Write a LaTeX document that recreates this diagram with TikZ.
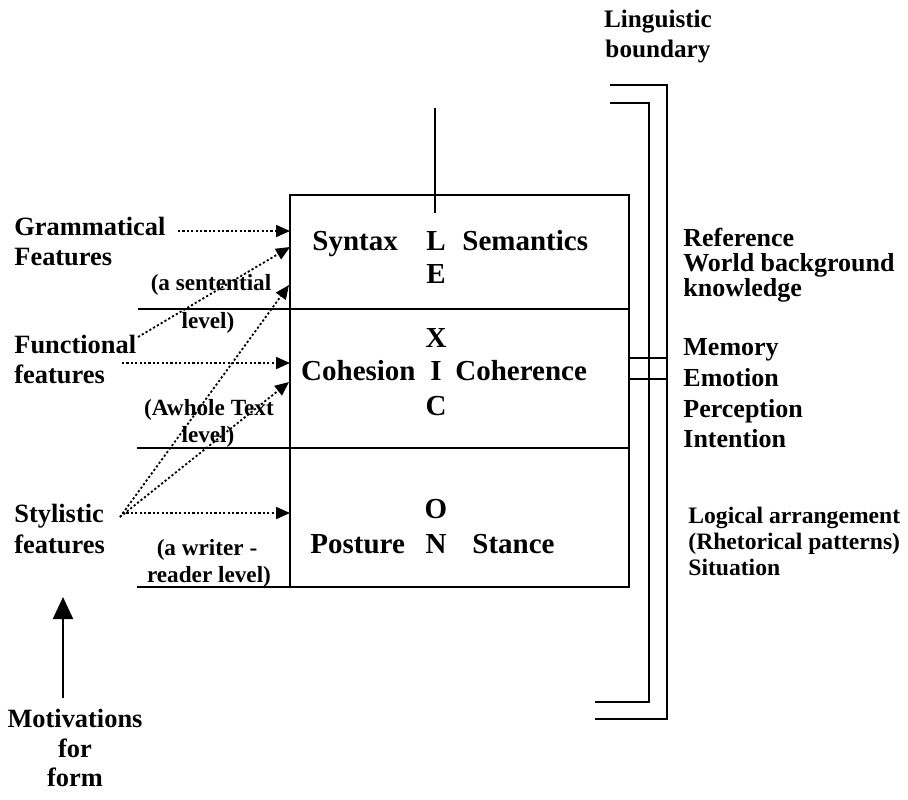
\documentclass[tikz,border=0pt]{standalone}
\usepackage{fontspec}
\setmainfont{Liberation Serif}
\usetikzlibrary{arrows.meta}
\begin{document}
\begin{tikzpicture}[x=0.5pt,y=-0.5pt,
  lbl/.style={font=\fontsize{13.2}{15}\selectfont\bfseries, inner sep=0pt, anchor=base west},
  sml/.style={font=\fontsize{11.6}{14}\selectfont\bfseries, inner sep=0pt, anchor=base},
  boxt/.style={font=\fontsize{14.5}{17}\selectfont\bfseries, inner sep=0pt, anchor=base west},
  lex/.style={font=\fontsize{14.5}{17}\selectfont\bfseries, inner sep=0pt, anchor=base},
  rgt/.style={font=\fontsize{13}{15}\selectfont\bfseries, inner sep=0pt, anchor=base west},
  rgs/.style={font=\fontsize{11.8}{14}\selectfont\bfseries, inner sep=0pt, anchor=base west},
  ttl/.style={font=\fontsize{12.6}{15}\selectfont\bfseries, inner sep=0pt, anchor=base},
  solid line/.style={line width=1.25pt},
  dotarrow/.style={line width=0.9pt, dash pattern=on 1.1pt off 1.1pt, -{Triangle[length=7pt,width=6pt]}},
]
\useasboundingbox (0,0) rectangle (908,799);

% main box and dividers
\draw[solid line] (290,195) rectangle (629,587);
\draw[solid line] (138,309) -- (629,309);
\draw[solid line] (137,448) -- (629,448);
\draw[solid line] (137,587) -- (290,587);
\draw[solid line] (435,108) -- (435,213);

% brackets
\draw[solid line] (610,85) -- (667,85) -- (667,719) -- (595,719);
\draw[solid line] (610,103) -- (649,103) -- (649,702) -- (595,702);
\draw[solid line] (629,358) -- (667,358);
\draw[solid line] (629,379) -- (667,379);

% title
\node[ttl] (t1) at (658,27) {Linguistic};
\node[ttl] (t2) at (658,57) {boundary};

% box texts
\node[boxt] (syn) at (312,250) {Syntax};
\node[lex] (L) at (436,250) {L};
\node[boxt] (sem) at (462,250) {Semantics};
\node[lex] (E) at (436,283) {E};
\node[lex] (X) at (436,347) {X};
\node[boxt, anchor=base east] (coh) at (416,380) {Cohesion};
\node[lex] (I) at (436,380) {I};
\node[boxt] (coe) at (455,380) {Coherence};
\node[lex] (C) at (436,415) {C};
\node[lex] (O) at (436,518) {O};
\node[boxt] (pos) at (310,553) {Posture};
\node[lex] (N) at (436,553) {N};
\node[boxt] (sta) at (472,553) {Stance};

% right texts
\node[rgt] (r1) at (683,246) {Reference};
\node[rgt] (r2) at (683,271) {World background};
\node[rgt] (r3) at (683,296) {knowledge};
\node[rgt] (r4) at (683,355) {Memory};
\node[rgt] (r5) at (683,386) {Emotion};
\node[rgt] (r6) at (683,417) {Perception};
\node[rgt] (r7) at (683,447) {Intention};
\node[rgs] (r8) at (688,523) {Logical arrangement};
\node[rgs] (r9) at (688,549) {(Rhetorical patterns)};
\node[rgs] (r10) at (688,575) {Situation};

% left texts
\node[lbl] (g1) at (14,235) {Grammatical};
\node[lbl] (g2) at (14,265) {Features};
\node[lbl] (f1) at (14,353) {Functional};
\node[lbl] (f2) at (14,383) {features};
\node[lbl] (s1) at (14,522) {Stylistic};
\node[lbl] (s2) at (14,553) {features};
\node[sml] (a1) at (211,290) {(a sentential};
\node[sml] (a2) at (208,328) {level)};
\node[sml] (b1) at (209,415) {(Awhole Text};
\node[sml] (b2) at (208,442) {level)};
\node[sml] (c1) at (207,555) {(a writer -};
\node[sml] (c2) at (209,582) {reader level)};

\node[lbl, anchor=base] (m1) at (75,727) {Motivations};
\node[lbl, anchor=base] (m2) at (75,757) {for};
\node[lbl, anchor=base] (m3) at (75,786) {form};

% arrow up
\coordinate (upS) at (63,698);
\coordinate (upE) at (63,597);
\draw[line width=1pt, -{Triangle[length=11pt,width=10pt]}] (upS) -- (upE);

% dotted arrows
\coordinate (gS) at (178,231);
\coordinate (gE) at (290,231);
\coordinate (fS) at (138,337);
\coordinate (fE) at (290,247);
\coordinate (fhS) at (122,363);
\coordinate (fhE) at (290,363);
\coordinate (sS) at (120,517);
\coordinate (sE1) at (289,285);
\coordinate (sE2) at (289,382);
\coordinate (shS) at (122,513);
\coordinate (shE) at (290,513);
\draw[dotarrow] (gS) -- (gE);
\draw[dotarrow] (fS) -- (fE);
\draw[dotarrow] (fhS) -- (fhE);
\draw[dotarrow] (sS) -- (sE1);
\draw[dotarrow] (sS) -- (sE2);
\draw[dotarrow] (shS) -- (shE);
\end{tikzpicture}
\end{document}
